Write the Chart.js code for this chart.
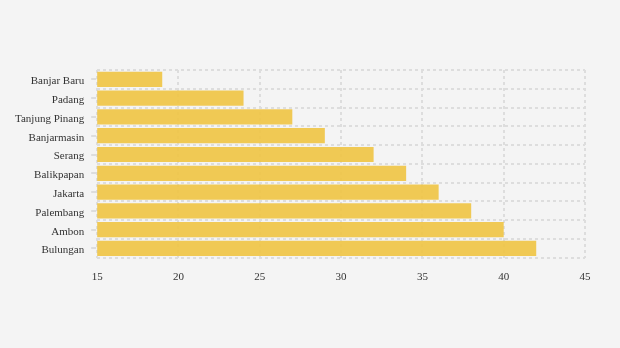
<!DOCTYPE html>
<html>
<head>
<meta charset="utf-8">
<script src="https://cdn.jsdelivr.net/npm/chart.js@4"></script>
<style>
  html, body { margin: 0; padding: 0; background: #f4f4f4; }
  #wrap { width: 620px; height: 348px; position: relative; }
</style>
</head>
<body>
<div id="wrap"><canvas id="cityChart"></canvas></div>
<script>
var cities = ['Banjar Baru', 'Padang', 'Tanjung Pinang', 'Banjarmasin', 'Serang',
              'Balikpapan', 'Jakarta', 'Palembang', 'Ambon', 'Bulungan'];
var values = [19, 24, 27, 29, 32, 34, 36, 38, 40, 42];
var xMin = 15;
var xMax = 45;
var xStep = 5;

// short tick marks at each category centre on the left axis
var yTickMarks = {
    id: 'yTickMarks',
    afterDraw: function(chart) {
        var y = chart.scales.y;
        var ctx = chart.ctx;
        ctx.save();
        ctx.strokeStyle = '#dddddd';
        ctx.lineWidth = 2;
        for (var i = 0; i < cities.length; i++) {
            var py = Math.round(y.getPixelForTick(i));
            ctx.beginPath();
            ctx.moveTo(y.right - 6, py);
            ctx.lineTo(y.right - 1, py);
            ctx.stroke();
        }
        ctx.restore();
    }
};

var ctx = document.getElementById('cityChart').getContext('2d');
var cityChart = new Chart(ctx, {
    type: 'bar',
    data: {
        labels: cities,
        datasets: [{
            data: values,
            backgroundColor: 'rgba(240, 196, 66, 0.9)',
            borderWidth: 0,
            barPercentage: 0.81,
            categoryPercentage: 1
        }]
    },
    options: {
        indexAxis: 'y',
        responsive: true,
        maintainAspectRatio: false,
        animation: false,
        layout: { padding: { top: 70, right: 35, bottom: 51, left: 2 } },
        scales: {
            x: {
                min: xMin,
                max: xMax,
                border: { display: false, dash: [3, 3] },
                grid: {
                    color: '#dddddd',
                    lineWidth: 2,
                    drawTicks: false
                },
                ticks: {
                    stepSize: xStep,
                    padding: 13,
                    color: '#333333',
                    font: { family: 'Liberation Serif', size: 11 }
                }
            },
            y: {
                border: { display: false, dash: [3, 3] },
                grid: {
                    color: '#dddddd',
                    lineWidth: 2,
                    offset: true,
                    drawTicks: false
                },
                ticks: {
                    padding: 13,
                    labelOffset: 2,
                    color: '#333333',
                    font: { family: 'Liberation Serif', size: 11 }
                }
            }
        },
        plugins: {
            legend: { display: false },
            tooltip: { enabled: false }
        }
    },
    plugins: [yTickMarks]
});
</script>
</body>
</html>
